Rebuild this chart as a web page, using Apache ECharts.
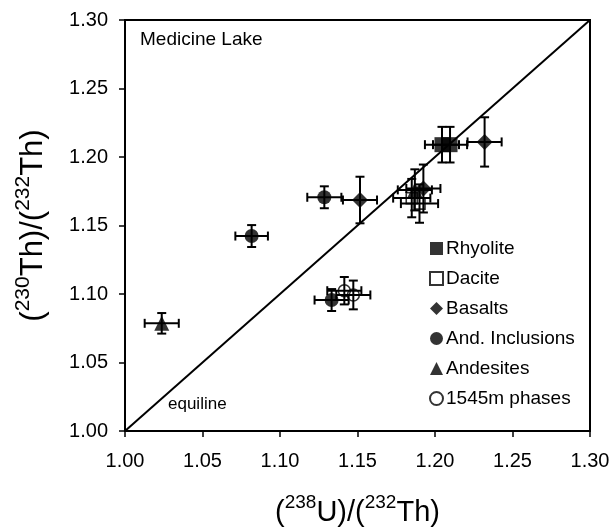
<!DOCTYPE html>
<html>
<head>
<meta charset="utf-8">
<script src="https://cdn.jsdelivr.net/npm/echarts@6/dist/echarts.min.js"></script>
<style>html,body{margin:0;padding:0;background:#fff}#c{width:613px;height:532px}</style>
</head>
<body>
<div id="c"></div>
<script>
// [x, y, xErr, yErr]
var rhyolite = [[1.2045, 1.209, 0.011, 0.013], [1.2097, 1.209, 0.011, 0.013]];
var dacite = [[1.185, 1.170, 0.012, 0.014], [1.190, 1.166, 0.012, 0.014]];
var basalts = [[1.232, 1.211, 0.011, 0.018], [1.1516, 1.1686, 0.011, 0.017], [1.1925, 1.177, 0.011, 0.0175]];
var andInclusions = [[1.0817, 1.1423, 0.0105, 0.008], [1.1286, 1.1706, 0.011, 0.008], [1.1333, 1.0956, 0.011, 0.008]];
var andesites = [[1.0237, 1.0786, 0.011, 0.0075], [1.187, 1.176, 0.011, 0.015]];
var phases1545 = [[1.1415, 1.1024, 0.011, 0.010], [1.1473, 1.0993, 0.011, 0.0105]];
var axisTicks = [1.00, 1.05, 1.10, 1.15, 1.20, 1.25, 1.30];
var equiline = [[1.00, 1.00], [1.30, 1.30]];

var FONT = 'Liberation Sans, Arial, sans-serif';
var chart = echarts.init(document.getElementById('c'), null, {renderer: 'canvas'});

function errSeries(data) {
  return {
    type: 'custom',
    data: data,
    silent: true,
    z: 2,
    renderItem: function (params, api) {
      var x = api.value(0), y = api.value(1), ex = api.value(2), ey = api.value(3);
      var c = api.coord([x, y]);
      var l = api.coord([x - ex, y]), r = api.coord([x + ex, y]);
      var t = api.coord([x, y + ey]), b = api.coord([x, y - ey]);
      var cap = 4.5;
      var st = {stroke: '#000', lineWidth: 2};
      return {
        type: 'group',
        children: [
          {type: 'line', shape: {x1: l[0], y1: c[1], x2: r[0], y2: c[1]}, style: st},
          {type: 'line', shape: {x1: c[0], y1: t[1], x2: c[0], y2: b[1]}, style: st},
          {type: 'line', shape: {x1: l[0], y1: c[1] - cap, x2: l[0], y2: c[1] + cap}, style: st},
          {type: 'line', shape: {x1: r[0], y1: c[1] - cap, x2: r[0], y2: c[1] + cap}, style: st},
          {type: 'line', shape: {x1: c[0] - cap, y1: t[1], x2: c[0] + cap, y2: t[1]}, style: st},
          {type: 'line', shape: {x1: c[0] - cap, y1: b[1], x2: c[0] + cap, y2: b[1]}, style: st}
        ]
      };
    }
  };
}

function pts(name, data, symbol, size, filled) {
  return {
    name: name,
    type: 'scatter',
    data: data.map(function (d) { return [d[0], d[1]]; }),
    symbol: symbol,
    symbolSize: size,
    z: 5,
    itemStyle: filled ? {color: '#000'} : {color: 'rgba(255,255,255,0)', borderColor: '#000', borderWidth: 1.6}
  };
}

function nameRich(p, s) {
  return {
    p: {fontSize: p, fontFamily: FONT, color: '#000', verticalAlign: 'bottom', lineHeight: p + 5},
    s: {fontSize: s, fontFamily: FONT, color: '#000', verticalAlign: 'top', lineHeight: p + 5, padding: [0, 0, Math.round(s * 0.6), 0]}
  };
}

var option = {
  animation: false,
  backgroundColor: '#fff',
  grid: {left: 125, right: 23, top: 20, bottom: 101, containLabel: false, outerBoundsMode: 'none',
    show: true, borderColor: '#000', borderWidth: 2, backgroundColor: 'transparent'},
  xAxis: {
    type: 'value', min: 1.0, max: 1.3, interval: 0.05,
    splitLine: {show: false},
    axisLine: {lineStyle: {color: '#000', width: 2}},
    axisTick: {lineStyle: {color: '#000', width: 1.5}, length: 6},
    axisLabel: {color: '#000', fontSize: 20, fontFamily: FONT, margin: 20,
      formatter: function (v) { return v.toFixed(2); }},
    name: '{p|(}{s|238}{p|U)/(}{s|232}{p|Th)}',
    nameLocation: 'middle', nameGap: 62,
    nameTextStyle: {rich: nameRich(29, 19)}
  },
  yAxis: {
    type: 'value', min: 1.0, max: 1.3, interval: 0.05,
    splitLine: {show: false},
    axisLine: {lineStyle: {color: '#000', width: 2}},
    axisTick: {lineStyle: {color: '#000', width: 1.5}, length: 6},
    axisLabel: {color: '#000', fontSize: 20, fontFamily: FONT, margin: 17,
      formatter: function (v) { return v.toFixed(2); }},
    name: '{p|(}{s|230}{p|Th)/(}{s|232}{p|Th)}',
    nameLocation: 'middle', nameGap: 76,
    nameTextStyle: {rich: nameRich(31, 21)}
  },
  legend: {
    orient: 'vertical', left: 424, top: 234, itemGap: 11,
    itemWidth: 13, itemHeight: 13,
    textStyle: {fontSize: 19, fontFamily: FONT, color: '#000', padding: [0, 0, 0, -2]},
    data: ['Rhyolite', 'Dacite', 'Basalts', 'And. Inclusions', 'Andesites', '1545m phases']
  },
  graphic: [
    {type: 'text', left: 140, top: 30, style: {text: 'Medicine Lake', fontSize: 19, fontFamily: FONT, fill: '#000'}},
    {type: 'text', left: 168, top: 396, style: {text: 'equiline', fontSize: 17, fontFamily: FONT, fill: '#000'}}
  ],
  series: [
    {type: 'line', data: equiline, symbol: 'none', silent: true, lineStyle: {color: '#000', width: 2}, z: 1},
    errSeries(rhyolite), errSeries(dacite), errSeries(basalts),
    errSeries(andInclusions), errSeries(andesites), errSeries(phases1545),
    pts('Dacite', dacite, 'rect', 11, false),
    pts('Rhyolite', rhyolite, 'rect', 15, true),
    pts('Basalts', basalts, 'diamond', 16, true),
    pts('And. Inclusions', andInclusions, 'circle', 14, true),
    pts('Andesites', andesites, 'triangle', 15, true),
    pts('1545m phases', phases1545, 'circle', 12, false)
  ]
};
chart.setOption(option);
</script>
</body>
</html>
